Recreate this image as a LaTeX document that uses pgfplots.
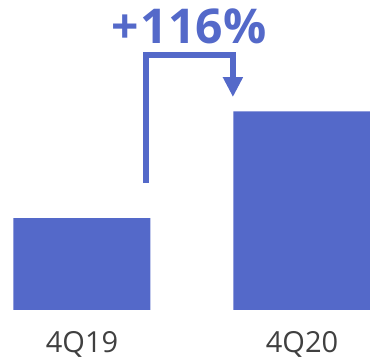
\documentclass[border=0pt]{standalone}
\usepackage{fontspec}
\setmainfont{Open Sans}
\usepackage{pgfplots}
\pgfplotsset{compat=1.18}
\usetikzlibrary{arrows.meta}
\definecolor{barblue}{HTML}{5469C9}
\definecolor{lbl}{HTML}{404040}
\begin{document}
\begin{tikzpicture}
\begin{axis}[
  name=ax,
  scale only axis, width=370pt, height=360pt,
  xmin=-0.3727, xmax=1.3091, ymin=-54.35, ymax=337,
  hide axis, clip=false,
  ybar, bar width=137pt,
]
\addplot[fill=barblue, draw=none] coordinates {(0,100) (1,216)};
\draw[barblue, line width=6pt, -{Triangle[width=19pt,length=20pt]}]
  (axis cs:0.291,138) -- (axis cs:0.291,277) -- (axis cs:0.686,277) -- (axis cs:0.686,231.5);
\node[anchor=base, text=barblue, font=\fontsize{48}{50}\selectfont\bfseries] at (axis cs:0.486,290) {+\kern2pt116\%};
\node[anchor=base, text=lbl, font=\fontsize{29}{31}\selectfont] at (axis cs:0,-46.5) {4Q19};
\node[anchor=base, text=lbl, font=\fontsize{29}{31}\selectfont] at (axis cs:1,-46.5) {4Q20};
\end{axis}
\pgfresetboundingbox
\path (ax.south west) rectangle (ax.north east);
\end{tikzpicture}
\end{document}
